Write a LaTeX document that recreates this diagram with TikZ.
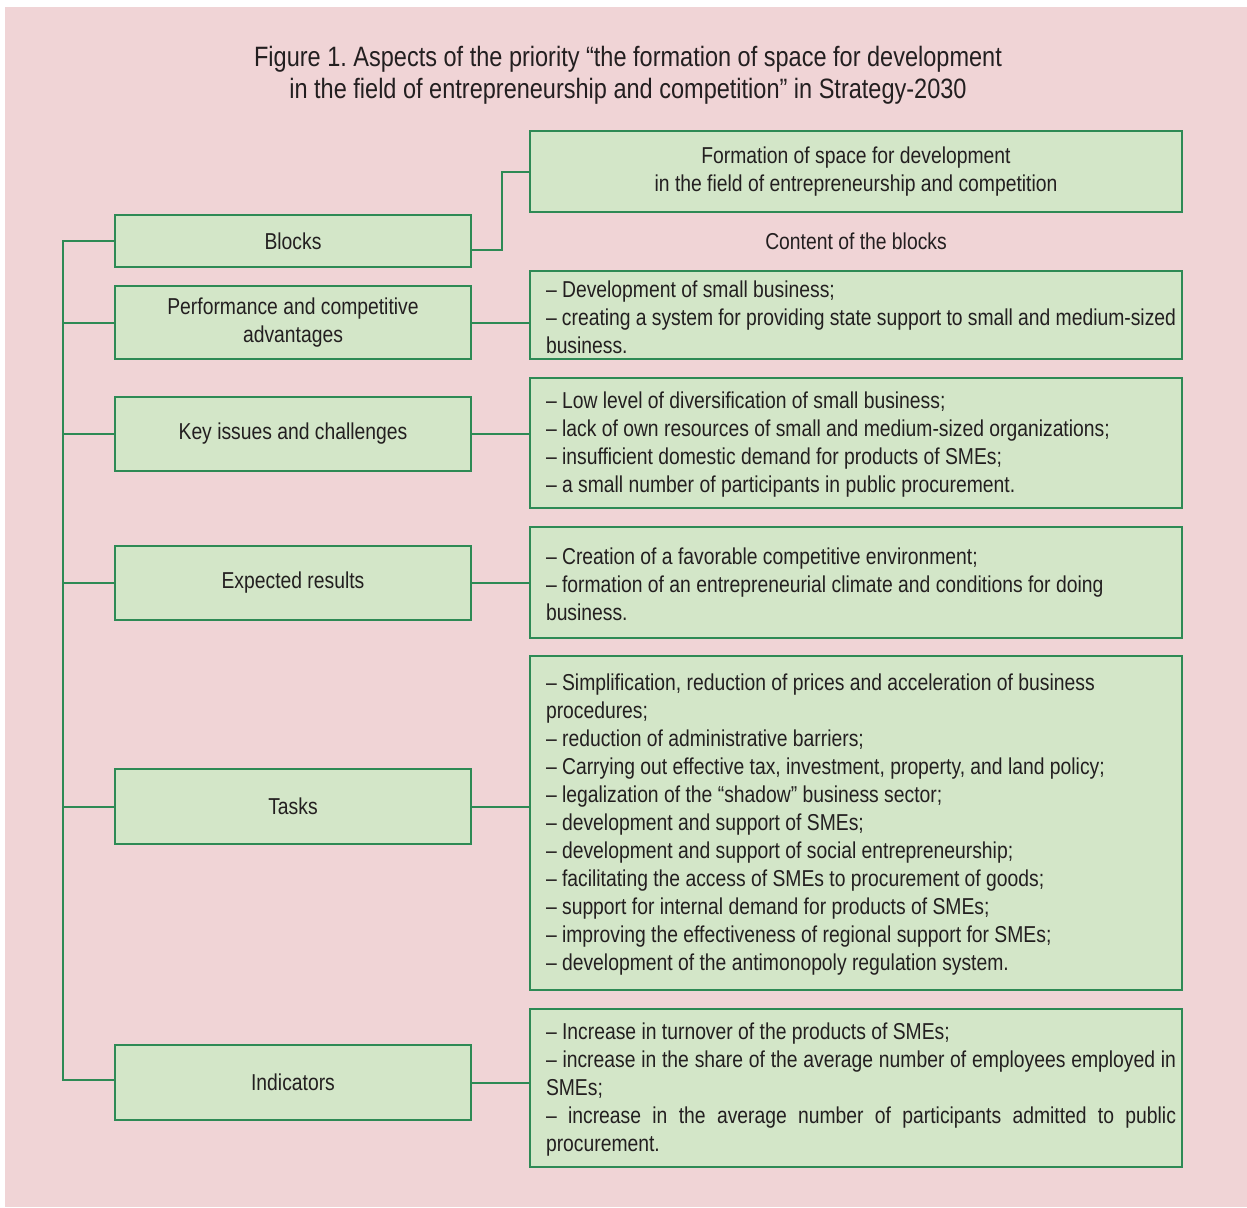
\documentclass[tikz,border=0pt]{standalone}
\usepackage{fontspec}
\setmainfont{Liberation Sans}[FakeStretch=0.84]
\frenchspacing
\definecolor{bgpink}{RGB}{240,212,214}
\definecolor{boxgreen}{RGB}{211,230,200}
\definecolor{linegreen}{RGB}{46,138,85}
\definecolor{txt}{RGB}{35,31,32}
\begin{document}
\begin{tikzpicture}[x=0.5pt,y=-0.5pt,
  every node/.style={text=txt, font=\fontsize{11.5}{14}\selectfont},
  lbox/.style={draw=linegreen, line width=1pt, fill=boxgreen, minimum width=178pt, inner sep=0pt, align=center},
  rbox/.style={draw=linegreen, line width=1pt, fill=boxgreen, minimum width=326pt, inner sep=0pt},
  rtext/.style={text width=315pt, align=justify, inner sep=0pt, yshift=-1pt, xshift=2.5pt},
  conn/.style={draw=linegreen, line width=1pt}]
\useasboundingbox (0,0) rectangle (1247,1207);
\fill[bgpink] (5,7) rectangle (1247,1207);

% title
\node[align=center, font=\fontsize{14}{16}\selectfont] (title) at (628,75)
 {Figure 1. Aspects of the priority “the formation of space for development\\
  in the field of entrepreneurship and competition” in Strategy-2030};

% left boxes
\node[lbox, minimum height=26pt]   (blocks) at (293,241) {Blocks};
\node[lbox, minimum height=36.5pt] (perf)   at (293,322.5) {Performance and competitive\\advantages};
\node[lbox, minimum height=37pt]   (key)    at (293,434) {Key issues and challenges};
\node[lbox, minimum height=37pt]   (exp)    at (293,583) {Expected results};
\node[lbox, minimum height=37.5pt] (tasks)  at (293,806.5) {Tasks};
\node[lbox, minimum height=37.5pt] (ind)    at (293,1082.5) {Indicators};

% right boxes
\node[rbox, minimum height=40.5pt, align=center] (form) at (856,171.5)
 {Formation of space for development\\in the field of entrepreneurship and competition};
\node (content) at (856,241) {Content of the blocks};

\node[rbox, minimum height=44pt] (c1) at (856,315) {};
\node[rtext] at (c1) {– Development of small business;\\
– creating a system for providing state support to small and medium-sized\linebreak
business.};

\node[rbox, minimum height=65pt] (c2) at (856,443) {};
\node[rtext] at (c2) {– Low level of diversification of small business;\\
– lack of own resources of small and medium-sized organizations;\\
– insufficient domestic demand for products of SMEs;\\
– a small number of participants in public procurement.};

\node[rbox, minimum height=55.5pt] (c3) at (856,582.5) {};
\node[rtext] at (c3) {– Creation of a favorable competitive environment;\\
– formation of an entrepreneurial climate and conditions for doing\\
business.};

\node[rbox, minimum height=167pt] (c4) at (856,823) {};
\node[rtext] at (c4) {– Simplification, reduction of prices and acceleration of business\\
procedures;\\
– reduction of administrative barriers;\\
– Carrying out effective tax, investment, property, and land policy;\\
– legalization of the “shadow” business sector;\\
– development and support of SMEs;\\
– development and support of social entrepreneurship;\\
– facilitating the access of SMEs to procurement of goods;\\
– support for internal demand for products of SMEs;\\
– improving the effectiveness of regional support for SMEs;\\
– development of the antimonopoly regulation system.};

\node[rbox, minimum height=79pt] (c5) at (856,1088) {};
\node[rtext] at (c5) {– Increase in turnover of the products of SMEs;\\
– increase in the share of the average number of employees employed in\linebreak
SMEs;\\
– increase in the average number of participants admitted to public\linebreak
procurement.};

% connectors
\coordinate (spineTop) at (63,241);
\coordinate (spineBot) at (63,1080);
\draw[conn] (blocks.west) -- (spineTop) -- (spineBot) -- (spineBot -| ind.west);
\draw[conn] (perf.west) -- (perf.west -| spineTop);
\draw[conn] (key.west) -- (key.west -| spineTop);
\draw[conn] (exp.west) -- (exp.west -| spineTop);
\draw[conn] (tasks.west) -- (tasks.west -| spineTop);
\coordinate (bk) at (502,250);
\draw[conn] (blocks.east |- bk) -- (bk) |- (form.west);
\draw[conn] (perf.east) -- (perf.east -| c1.west);
\draw[conn] (key.east) -- (key.east -| c2.west);
\draw[conn] (exp.east) -- (exp.east -| c3.west);
\draw[conn] (tasks.east) -- (tasks.east -| c4.west);
\draw[conn] (ind.east) -- (ind.east -| c5.west);
\end{tikzpicture}
\end{document}
